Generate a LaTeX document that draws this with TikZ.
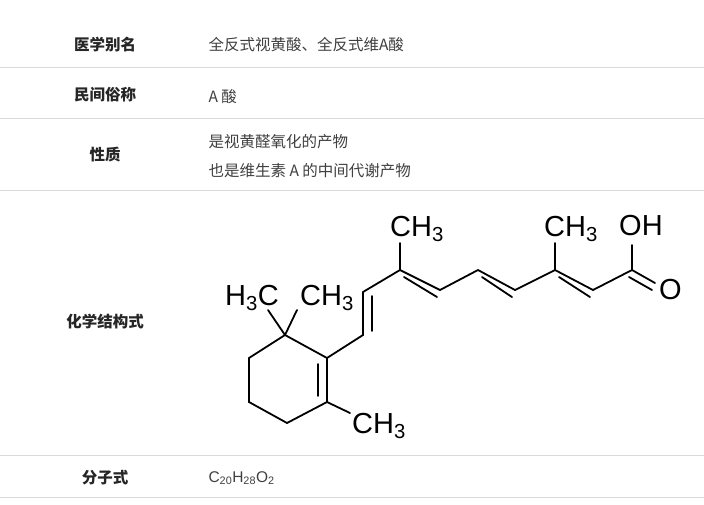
\documentclass[tikz,border=0pt]{standalone}
\usepackage{fontspec}
\setmainfont{Liberation Sans}
\newfontfamily\cjk{Noto Sans CJK SC}
\begin{document}
\begin{tikzpicture}[x=1pt,y=-1pt,
  lab/.style={font=\cjk\bfseries\fontsize{15.5}{17}\selectfont,text=black!85},
  val/.style={font=\cjk\fontsize{15.5}{17}\selectfont,text=black!75,anchor=west},
  rule/.style={draw=black!15,line width=0.8pt},
  bond/.style={line width=1.8pt,line cap=round},
  chem/.style={font=\fontsize{29}{30}\selectfont,inner sep=0pt}]
\useasboundingbox (0,0) rectangle (704,504);
\fill[white] (0,0) rectangle (704,504);
\foreach \yy in {67,118,190,455,497} \draw[rule] (0,\yy) -- (704,\yy);
\node[lab] (l1) at (105,45) {医学别名};
\node[lab] (l2) at (105,95) {民间俗称};
\node[lab] (l3) at (105,155) {性质};
\node[lab] (l4) at (105,322) {化学结构式};
\node[lab] (l5) at (105,478) {分子式};
\node[val] (v1) at (205,45) {全反式视黄酸、全反式维A酸};
\node[val] (v2) at (205,97) {A 酸};
\node[val] (v3) at (205,142) {是视黄醛氧化的产物};
\node[val] (v3b) at (205,171) {也是维生素 A 的中间代谢产物};
\node[val,font=\fontsize{15.5}{17}\selectfont] (v5) at (205,478) {C$_{\mathrm{20}}$H$_{\mathrm{28}}$O$_{\mathrm{2}}$};
% structure
\coordinate (r1) at (285,335); \coordinate (r2) at (327,358); \coordinate (r3) at (327,402);
\coordinate (r4) at (287,423); \coordinate (r5) at (249,402); \coordinate (r6) at (249,358);
\coordinate (a1) at (363,335); \coordinate (a2) at (363,292); \coordinate (a3) at (400,270);
\coordinate (a4) at (440,290); \coordinate (a5) at (478,270); \coordinate (a6) at (515,290);
\coordinate (a7) at (555,270); \coordinate (a8) at (593,290); \coordinate (a9) at (632,270);
\coordinate (m1) at (268,310); \coordinate (m2) at (297,310); \coordinate (m3) at (350,413);
\coordinate (m4) at (400,243); \coordinate (m5) at (555,243); \coordinate (oh) at (632,245);
\coordinate (o) at (655,283);
\draw[bond] (r1)--(r2)--(r3)--(r4)--(r5)--(r6)--cycle;
\draw[bond] (r1)--(m1) (r1)--(m2) (r3)--(m3);
\draw[bond] (r2)--(a1)--(a2)--(a3)--(a4)--(a5)--(a6)--(a7)--(a8)--(a9)--(oh);
\draw[bond] (a3)--(m4) (a7)--(m5) (a9)--(o);
\draw[bond] ([xshift=-9pt,yshift=-6pt]r2) -- ([xshift=-9pt,yshift=6pt]r3);
\draw[bond] ([xshift=9pt,yshift=4pt]a1) -- ([xshift=9pt,yshift=-4pt]a2);
\draw[bond] ([xshift=4pt,yshift=-7pt]a3) -- ([xshift=-3pt,yshift=-7pt]a4);
\draw[bond] ([xshift=4pt,yshift=-7pt]a5) -- ([xshift=-3pt,yshift=-7pt]a6);
\draw[bond] ([xshift=4pt,yshift=-7pt]a7) -- ([xshift=-3pt,yshift=-7pt]a8);
\draw[bond] ([xshift=-3pt,yshift=-7pt]a9) -- ([xshift=-3pt,yshift=-7pt]o);
\node[chem,anchor=east] (t1) at (279,298) {H$_{\mathrm{3}}$C};
\node[chem,anchor=west] (t2) at (300,298) {CH$_{\mathrm{3}}$};
\node[chem,anchor=west] (t3) at (352,426) {CH$_{\mathrm{3}}$};
\node[chem,anchor=west] (t4) at (390,229) {CH$_{\mathrm{3}}$};
\node[chem,anchor=west] (t5) at (544,229) {CH$_{\mathrm{3}}$};
\node[chem,anchor=west] (t6) at (619,226) {OH};
\node[chem,anchor=west] (t7) at (659,290) {O};
\end{tikzpicture}
\end{document}
